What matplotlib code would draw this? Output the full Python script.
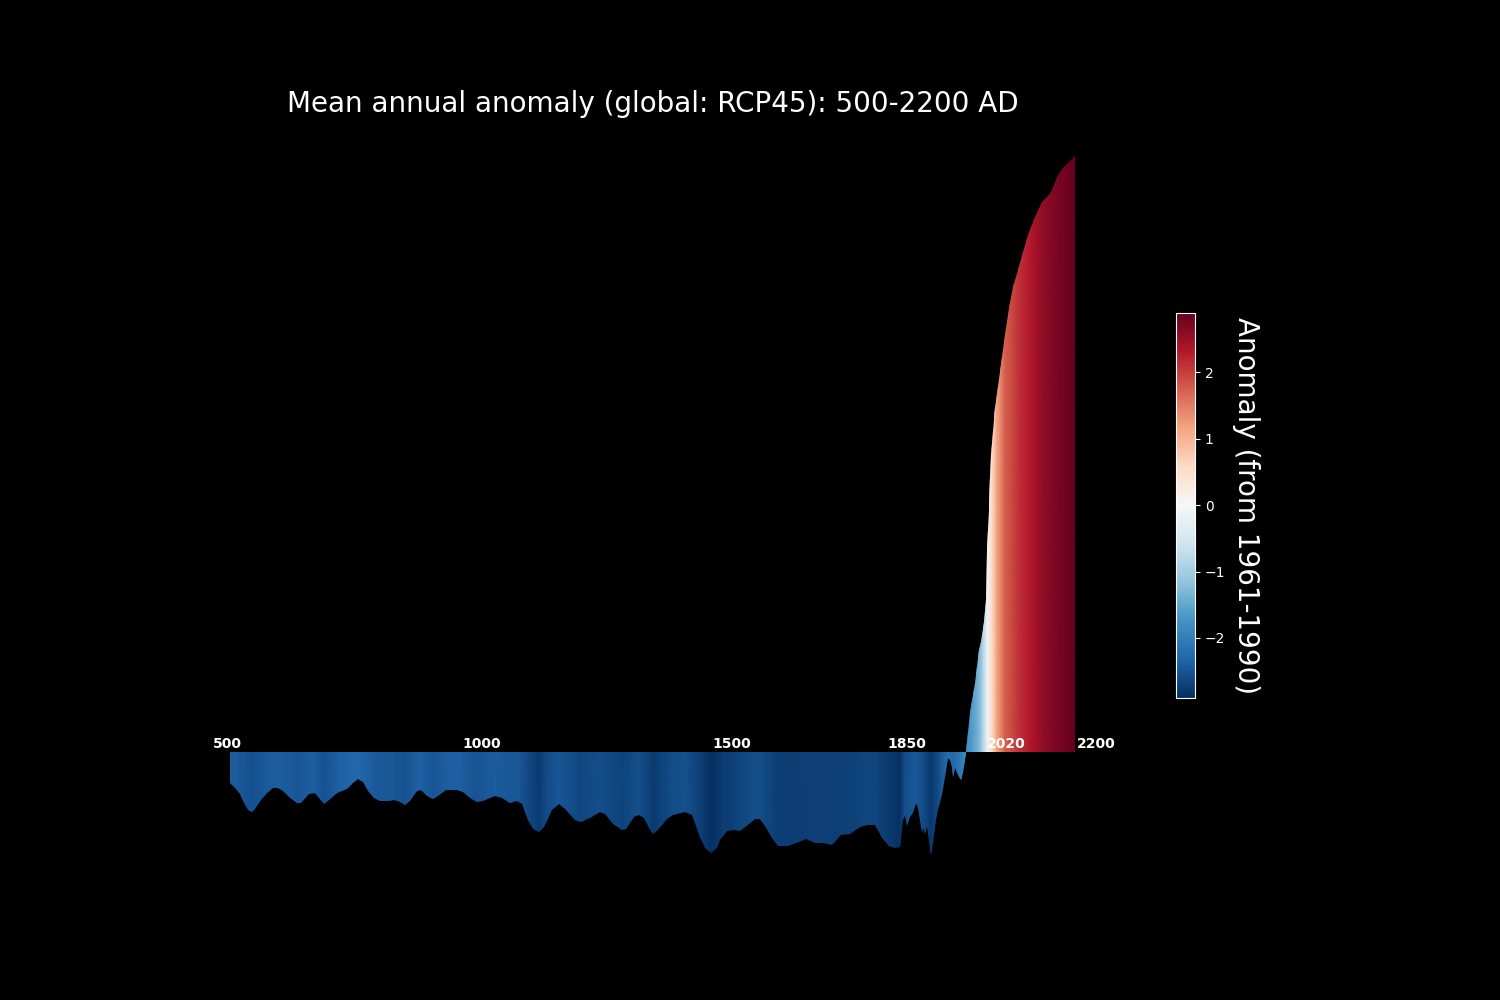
import matplotlib
matplotlib.use("Agg")
import matplotlib.pyplot as plt
from matplotlib.colors import Normalize
from matplotlib.cm import ScalarMappable

years = [500,510,520,528,537,544,550,562,574,586,597,607,621,634,642,658,671,680,689,698,715,735,748,758,768,778,790,802,819,829,842,853,862,876,884,896,908,919,935,956,969,983,
 996,1010,1033,1047,1063,1077,1087,1100,1110,1122,1132,1147,1161,1174,1194,1206,1224,1245,1255,1271,1288,1297,1312,1322,1332,1342,1352,1362,1379,1392,1416,1429,1446,1456,1467,1479,
 1486,1499,1513,1526,1543,1556,1566,1576,1590,1603,1623,1644,1659,1677,1694,1711,1729,1747,1768,1781,1798,1811,1825,1838,1848,1853,1857,1863,1868,1874,1880,1884,1892,1895,1898,1902,1910,1914,1920,1925,1932,1939,1944,1949,1952,1955,1959,1965,1970,1975,1980,
 1989,1998,2006,2011,2016,2021,2023,2026,2029,2031,2039,2049,2059,2067,2076,2086,2096,2106,2120,2133,2147,2155,2163,2173,2187,2200]
anomaly = [-.152,-.176,-.204,-.249,-.282,-.291,-.278,-.233,-.201,-.176,-.175,-.189,-.222,-.248,-.246,-.204,-.199,-.225,-.253,-.238,-.199,-.180,-.149,-.133,-.144,-.189,-.223,-.236,-.236,-.235,-.244,-.257,-.240,-.188,-.186,-.212,-.228,-.214,-.186,-.186,-.194,-.225,
 -.241,-.236,-.214,-.222,-.246,-.238,-.253,-.330,-.374,-.389,-.363,-.282,-.254,-.278,-.330,-.342,-.322,-.293,-.301,-.350,-.379,-.372,-.314,-.304,-.322,-.371,-.397,-.379,-.327,-.308,-.291,-.306,-.411,-.468,-.489,-.468,
 -.427,-.382,-.379,-.382,-.355,-.327,-.327,-.359,-.419,-.455,-.457,-.439,-.423,-.440,-.444,-.452,-.405,-.398,-.363,-.355,-.356,-.419,-.455,-.466,-.463,-.330,-.306,-.359,-.317,-.298,-.249,-.274,-.395,-.363,-.398,-.363,-.500,-.444,-.330,-.278,-.209,-.120,-.031,-.039,-.071,-.120,-.079,-.112,-.136,-.104,-.002,
 .188,.333,.495,.536,.633,.738,.981,1.175,1.337,1.442,1.669,1.847,2.025,2.155,2.260,2.341,2.430,2.511,2.600,2.673,2.705,2.738,2.794,2.831,2.864,2.896]

color_years = [500,520,544,575,600,634,665,689,720,758,790,830,853,880,908,940,965,993,1035,1063,1080,1100,1122,1135,1161,1205,1245,1290,1322,1352,1392,1416,1445,1467,1493,1513,1556,1566,1603,1659,1711,1747,1781,1798,1825,1848,1857,1880,1895,1910,1925,1944,1955,1970,1979,1981,1992,2006,2016,2024,2033,2043,2059,2086,2110,2133,2166,2200]
color_values = [-2.4,-2.45,-2.55,-2.43,-2.38,-2.47,-2.4,-2.52,-2.37,-2.28,-2.43,-2.47,-2.52,-2.37,-2.47,-2.38,-2.4,-2.5,-2.41,-2.47,-2.47,-2.62,-2.78,-2.62,-2.48,-2.64,-2.57,-2.68,-2.55,-2.78,-2.57,-2.55,-2.7,-2.88,-2.75,-2.7,-2.57,-2.57,-2.76,-2.72,-2.74,-2.7,-2.66,-2.66,-2.78,-2.87,-2.57,-2.45,-2.6,-2.8,-2.6,-2.2,-2.3,-2.05,-1.85,-1.8,-1.65,-1.35,-0.8,-0.1,.58,1.16,1.74,2.1,2.32,2.55,2.75,2.9]

label_x = [466, 967, 1470, 1822, 2023, 2204]
label_text = ["500", "1000", "1500", "1850", "2020", "2200"]

TITLE = "Mean annual anomaly (global: RCP45): 500-2200 AD"
CBAR_LABEL = "Anomaly (from 1961-1990)"
VMAX = 2.9

fig = plt.figure(figsize=(15, 10), dpi=100, facecolor="black")
ax = fig.add_axes([187.5/1500, 120/1000, 930/1500, 760/1000])
ax.set_facecolor("black")
ax.set_xlim(414.5, 2285.5)
ax.set_ylim(-0.622, 3.069)

norm = Normalize(-VMAX, VMAX)
shape = ax.fill_between(years, anomaly, 0, facecolor="none", edgecolor="none")
mesh = ax.pcolormesh(color_years, [-1, 4], [color_values, color_values],
                     shading="gouraud", cmap="RdBu_r", norm=norm)
mesh.set_clip_path(shape.get_paths()[0], ax.transData)

for x, s in zip(label_x, label_text):
    ax.text(x, 0.003, s, color="white", fontsize=10, fontweight="bold",
            ha="left", va="bottom", zorder=5)

ax.set_title(TITLE, color="white", fontsize=20)
for spine in ax.spines.values():
    spine.set_visible(False)
ax.set_xticks([])
ax.set_yticks([])

cax = fig.add_axes([1176/1500, 302.3/1000, 19/1500, 385/1000])
cb = fig.colorbar(ScalarMappable(norm=norm, cmap="RdBu_r"), cax=cax)
cb.set_ticks([-2, -1, 0, 1, 2])
cb.ax.tick_params(colors="white", labelsize=10)
cb.outline.set_edgecolor("white")
cb.set_label(CBAR_LABEL, color="white", fontsize=20, rotation=270, labelpad=25)

fig.savefig("out.png", dpi=100, facecolor="black")
